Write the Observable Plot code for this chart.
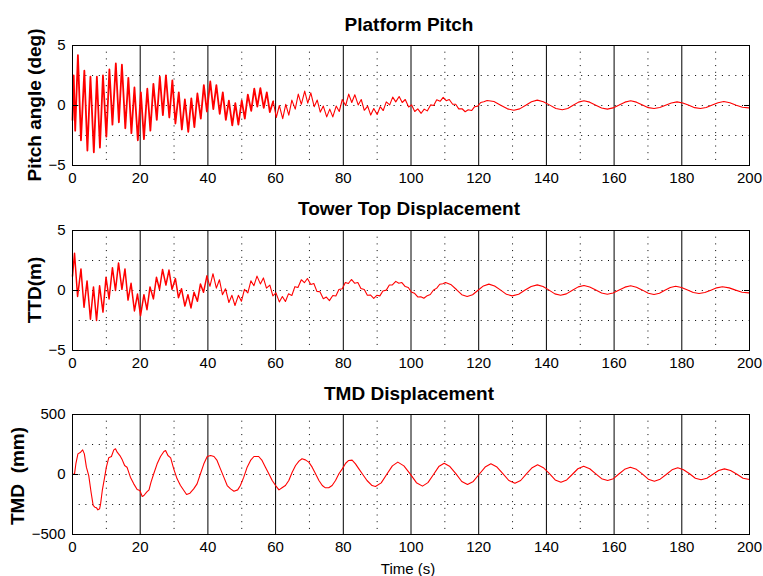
<!DOCTYPE html>
<html>
<head>
<meta charset="utf-8">
<script src="https://cdn.jsdelivr.net/npm/d3@7"></script>
<script src="https://cdn.jsdelivr.net/npm/@observablehq/plot@0.6"></script>
<style>
  html, body { margin: 0; padding: 0; background: #fff; }
  #root { position: relative; width: 763px; height: 576px; overflow: hidden; background: #fff;
          font-family: "Liberation Sans", Arial, Helvetica, sans-serif; }
  #root svg.panel { position: absolute; left: 0; }
  #labels { position: absolute; left: 0; top: 0; pointer-events: none; }
</style>
</head>
<body>
<div id="root"></div>
<script>
// ---------- axis ticks & grid ----------
const timeTicks = [0, 20, 40, 60, 80, 100, 120, 140, 160, 180, 200];
const solidGridTimes = [20, 40, 60, 80, 100, 120, 140, 160, 180];
const dottedGridTimes = [10, 30, 50, 70, 90, 110, 130, 150, 170, 190];
const pitchTicks = [-5, 0, 5];
const pitchGrid = [-2.5, 0, 2.5];
const ttdTicks = [-5, 0, 5];
const ttdGrid = [-2.5, 0, 2.5];
const tmdTicks = [-500, 0, 500];
const tmdGrid = [-250, 0, 250];

// ---------- texts ----------
const titles = ["Platform Pitch", "Tower Top Displacement", "TMD Displacement"];
const yLabels = ["Pitch angle (deg)", "TTD(m)", "TMD\u00a0\u00a0(mm)"];
const xLabel = "Time (s)";

// ---------- Platform pitch (deg) ----------
const pitchTime = [0, 0.35, 0.8, 1.6, 2.5, 3.5, 4.4, 5.3, 6.3, 7.2, 8.1, 9.0, 10.0, 10.9, 11.8, 12.8, 13.7, 14.6, 15.6, 16.5, 17.4, 18.3, 19.3, 20.2, 21.1, 22.1, 23.0, 23.9, 24.9, 25.8, 26.7, 27.6, 28.6, 29.5, 30.4, 31.4, 32.3, 33.2, 34.2, 35.1, 36.0, 36.9, 37.9, 38.8, 39.7, 40.7, 41.6, 42.5, 43.5, 44.4, 45.3, 46.2, 47.2, 48.1, 49.0, 50.0, 50.9, 51.8, 52.8, 53.7, 54.6, 55.5, 56.5, 57.4, 58.3, 59.3, 60.2, 61.1, 62.1, 63.0, 63.9, 64.8, 65.8, 66.7, 67.6, 68.6, 69.5, 70.4, 71.4, 72.3, 73.2, 74.1, 75.1, 76.0, 76.9, 77.9, 78.8, 79.7, 80.7, 81.6, 82.5, 83.4, 84.4, 85.3, 86.2, 87.2, 88.1, 89.0, 90.0, 90.9, 91.8, 92.7, 93.7, 94.6, 95.5, 96.5, 97.4, 98.3, 99.3, 100.2, 101.1, 102.0, 103.0, 103.9, 104.8, 105.8, 106.7, 107.6, 108.6, 109.5, 110.4, 111.3, 112.3, 113.2, 114.1, 115.1, 116.0, 116.9, 117.9, 118.8, 119.7, 120.6, 121.5, 122.5, 124.5, 126.5, 128.5, 130.4, 132.1, 133.9, 135.6, 137.3, 139.1, 141.0, 142.8, 144.7, 146.3, 147.9, 149.5, 151.1, 152.8, 154.6, 156.3, 158.0, 159.7, 161.5, 163.2, 164.9, 166.6, 168.4, 170.1, 171.8, 173.5, 175.2, 176.9, 178.6, 180.3, 182.1, 183.8, 185.5, 187.2, 189.0, 190.7, 192.4, 194.2, 196.1, 197.9, 199.8, 200];
const pitchDeg = [-1.2, 2.5, -2.1, 4.2, -2.9, 2.9, -3.75, 2.4, -3.9, 2.4, -3.5, 2.5, -2.6, 3.0, -1.6, 3.5, -1.4, 3.4, -1.9, 2.3, -2.3, 1.5, -2.9, 1.1, -2.8, 1.4, -2.1, 1.8, -1.2, 2.4, -0.8, 2.5, -1.0, 2.1, -1.5, 1.1, -2.0, 0.5, -2.2, 0.6, -1.8, 1.0, -1.1, 1.7, -0.5, 2.0, -0.3, 1.7, -0.7, 1.1, -1.2, 0.4, -1.65, 0.2, -1.6, 0.4, -1.1, 0.9, -0.45, 1.4, -0.1, 1.45, -0.2, 1.1, -0.55, 0.35, -1.0, 0.0, -1.1, 0.1, -0.8, 0.45, -0.3, 0.95, 0.1, 1.2, 0.2, 1.05, -0.1, 0.45, -0.55, -0.05, -0.95, -0.3, -0.95, -0.05, -0.5, 0.5, 0.0, 0.95, 0.25, 0.9, 0.05, 0.5, -0.4, -0.05, -0.8, -0.25, -0.75, -0.1, -0.42, 0.3, 0.05, 0.7, 0.3, 0.75, 0.25, 0.5, -0.12, 0.05, -0.5, -0.28, -0.65, -0.3, -0.45, 0.05, 0.0, 0.48, 0.35, 0.68, 0.4, 0.5, 0.1, 0.1, -0.28, -0.27, -0.52, -0.36, -0.42, -0.1, -0.05, 0.25, 0.32, 0.42, 0.33, 0.02, -0.28, -0.4, -0.28, 0.02, 0.32, 0.45, 0.32, 0.03, -0.25, -0.35, -0.25, 0.02, 0.28, 0.4, 0.28, 0.03, -0.21, -0.3, -0.2, 0.04, 0.28, 0.4, 0.28, 0.05, -0.18, -0.25, -0.17, 0.03, 0.21, 0.3, 0.21, 0.02, -0.18, -0.25, -0.17, 0.04, 0.23, 0.33, 0.23, 0.02, -0.15, -0.2, -0.2];

// ---------- Tower top displacement (m) ----------
const ttdTime = [0, 0.6, 1.5, 2.5, 3.4, 4.3, 5.3, 6.2, 7.1, 8.0, 9.0, 9.9, 10.8, 11.8, 12.7, 13.6, 14.6, 15.5, 16.4, 17.3, 18.3, 19.2, 20.1, 21.1, 22.0, 22.9, 23.9, 24.8, 25.7, 26.6, 27.6, 28.5, 29.4, 30.4, 31.3, 32.2, 33.2, 34.1, 35.0, 35.9, 36.9, 37.8, 38.7, 39.7, 40.6, 41.5, 42.5, 43.4, 44.3, 45.2, 46.2, 47.1, 48.0, 49.0, 49.9, 50.8, 51.8, 52.7, 53.6, 54.5, 55.5, 56.4, 57.3, 58.3, 59.2, 60.1, 61.1, 62.0, 62.9, 63.8, 64.8, 65.7, 66.6, 67.6, 68.5, 69.4, 70.4, 71.3, 72.2, 73.1, 74.1, 75.0, 75.9, 76.9, 77.8, 78.7, 79.7, 80.6, 81.5, 82.4, 83.4, 84.3, 85.2, 86.2, 87.1, 88.0, 89.0, 89.9, 90.8, 91.7, 92.7, 93.6, 94.5, 95.5, 96.4, 97.3, 98.3, 99.2, 100.1, 101.0, 102.0, 102.9, 103.8, 104.8, 105.7, 106.6, 107.6, 108.5, 109.4, 110.2, 111.9, 113.5, 115.0, 116.6, 118.2, 119.8, 121.4, 123.0, 124.7, 126.5, 128.2, 129.9, 131.8, 133.6, 135.5, 137.3, 139.0, 140.8, 142.5, 144.2, 145.9, 147.7, 149.4, 151.1, 152.8, 154.6, 156.3, 158.0, 159.7, 161.5, 163.2, 164.9, 166.6, 168.4, 170.1, 171.8, 173.4, 175.0, 176.6, 178.2, 179.9, 181.7, 183.4, 185.1, 186.8, 188.6, 190.3, 192.0, 194.0, 195.9, 197.8, 199.8, 200];
const ttdMetres = [1.2, 3.1, -0.5, 1.8, -1.4, 0.8, -2.4, 0.3, -2.5, 0.4, -1.8, 1.1, -0.7, 1.9, 0.0, 2.3, 0.1, 1.8, -0.8, 0.6, -1.7, -0.3, -2.1, -0.35, -1.6, 0.3, -0.7, 1.1, 0.1, 1.75, 0.45, 1.7, 0.1, 1.0, -0.6, 0.15, -1.3, -0.35, -1.45, -0.15, -0.9, 0.55, -0.15, 1.2, 0.35, 1.4, 0.2, 0.9, -0.35, 0.15, -1.0, -0.4, -1.25, -0.4, -0.9, 0.1, -0.2, 0.8, 0.4, 1.2, 0.55, 1.05, 0.2, 0.45, -0.45, -0.2, -0.95, -0.5, -0.92, -0.28, -0.42, 0.32, 0.25, 0.9, 0.65, 1.0, 0.5, 0.58, -0.07, -0.1, -0.68, -0.55, -0.84, -0.42, -0.46, 0.08, 0.14, 0.66, 0.58, 0.92, 0.6, 0.66, 0.17, 0.08, -0.4, -0.37, -0.65, -0.4, -0.45, -0.04, 0.03, 0.46, 0.47, 0.76, 0.6, 0.66, 0.33, 0.25, -0.12, -0.22, -0.54, -0.53, -0.65, -0.43, -0.33, 0.02, 0.2, 0.52, 0.56, 0.66, 0.47, 0.06, -0.35, -0.5, -0.35, 0.02, 0.38, 0.53, 0.37, 0.03, -0.32, -0.45, -0.31, 0.02, 0.34, 0.47, 0.33, 0.03, -0.28, -0.4, -0.28, 0.02, 0.3, 0.42, 0.29, 0.05, -0.21, -0.31, -0.21, 0.04, 0.28, 0.39, 0.27, 0.03, -0.23, -0.33, -0.23, 0.02, 0.25, 0.36, 0.25, 0.05, -0.17, -0.25, -0.17, 0.03, 0.22, 0.31, 0.22, 0.03, -0.14, -0.2, -0.2];

// ---------- TMD displacement (mm) ----------
const tmdTime = [0, 0.6, 1.0, 1.6, 2.4, 3.0, 3.5, 4.1, 4.8, 5.5, 6.1, 6.6, 7.1, 7.5, 8.0, 8.3, 8.8, 9.5, 10.0, 10.7, 11.5, 12.2, 12.7, 13.2, 14.0, 14.7, 15.4, 16.1, 17.1, 18.1, 19.1, 19.9, 20.6, 21.1, 21.9, 22.6, 23.2, 24.0, 25.0, 26.0, 27.0, 27.5, 28.2, 29.0, 29.9, 30.9, 31.9, 32.9, 33.7, 34.7, 35.8, 36.8, 37.8, 38.8, 39.8, 40.8, 41.8, 42.7, 43.7, 44.7, 45.7, 46.7, 47.7, 48.8, 49.6, 50.6, 51.6, 52.6, 53.6, 55.0, 56.0, 57.0, 58.0, 59.0, 60.0, 61.0, 61.9, 62.9, 63.9, 64.9, 65.9, 66.9, 67.8, 68.8, 69.8, 70.8, 71.8, 72.8, 73.8, 74.7, 75.7, 76.7, 77.7, 78.7, 79.7, 80.7, 81.6, 82.6, 83.6, 84.6, 85.6, 87.0, 88.5, 89.5, 91.2, 92.8, 94.5, 96.1, 97.9, 99.8, 101.6, 103.4, 105.0, 106.6, 108.2, 109.8, 111.5, 113.3, 115.0, 116.7, 118.4, 120.2, 121.9, 123.6, 125.4, 127.2, 128.9, 130.7, 132.4, 134.1, 135.8, 137.4, 139.1, 140.9, 142.6, 144.3, 146.0, 147.7, 149.3, 151.0, 152.8, 154.6, 156.3, 158.1, 159.8, 161.5, 163.1, 164.8, 166.6, 168.4, 170.1, 171.9, 173.6, 175.4, 177.1, 178.8, 180.5, 182.3, 184.0, 185.7, 187.4, 189.2, 190.9, 192.6, 194.4, 196.3, 198.1, 200.0];
const tmdMm = [0, 5, 90, 172, 186, 205, 172, 61, -10, -150, -258, -272, -278, -295, -286, -245, -133, -22, 61, 139, 150, 205, 214, 186, 158, 122, 75, 61, -22, -78, -125, -133, -183, -175, -147, -128, -64, 6, 89, 150, 192, 200, 158, 139, 47, -36, -92, -133, -167, -156, -120, -78, 6, 89, 150, 158, 150, 117, 47, -22, -92, -120, -139, -128, -92, -22, 61, 117, 150, 150, 117, 61, 6, -50, -92, -128, -111, -92, -50, 19, 75, 111, 131, 122, 103, 61, 6, -50, -92, -111, -111, -92, -50, 6, 47, 94, 117, 120, 89, 47, 6, -50, -92, -100, -70, 0, 72, 103, 72, 3, -68, -97, -68, -2, 66, 94, 66, 5, -58, -83, -58, 4, 62, 89, 62, 6, -50, -72, -50, 5, 57, 81, 57, 8, -45, -64, -45, 2, 48, 69, 48, 5, -35, -50, -35, 6, 43, 61, 43, 3, -39, -56, -39, 0, 39, 56, 39, 6, -31, -44, -31, 2, 33, 47, 33, 2, -31, -42];

const FONT = '"Liberation Sans", Arial, Helvetica, sans-serif';
const RED = "#ff0000";
const DOT = "1,5.7";

function table(times, values) {
  const n = Math.min(times.length, values.length);
  if (times.length !== values.length) console.warn("length mismatch", times.length, values.length);
  return times.slice(0, n).map((t, i) => ({t, v: values[i]}));
}

// thickStop: time up to which the dense early part is drawn with a heavier stroke
function panel(data, yTicks, yGrid, top, thickStop, thickWidth) {
  const svg = Plot.plot({
    width: 763,
    height: 170,
    marginLeft: 72,
    marginRight: 14,
    marginTop: 15,
    marginBottom: 35,
    x: {domain: d3.extent(timeTicks)},
    y: {domain: d3.extent(yTicks)},
    style: {fontFamily: FONT, fontSize: "15px", color: "#000", background: "transparent", overflow: "visible"},
    marks: [
      Plot.ruleX(dottedGridTimes, {stroke: "#000", strokeDasharray: DOT, strokeWidth: 1}),
      Plot.ruleY(yGrid, {stroke: "#000", strokeDasharray: DOT, strokeWidth: 1}),
      Plot.ruleX(solidGridTimes, {stroke: "#000", strokeWidth: 1}),
      Plot.line(data, {filter: (d) => d.t >= thickStop - 1, x: "t", y: "v", stroke: RED, strokeWidth: 1.1}),
      Plot.line(data, {filter: (d) => d.t <= thickStop, x: "t", y: "v", stroke: RED, strokeWidth: thickWidth}),
      Plot.frame({stroke: "#000", strokeWidth: 1}),
      Plot.axisX({ticks: timeTicks, tickSize: 0, tickPadding: 7, label: null, tickFormat: d3.format("d")}),
      Plot.axisY({ticks: yTicks, tickSize: 0, tickPadding: 7, label: null, tickFormat: d3.format("d")}),
      Plot.axisY({ticks: yTicks, anchor: "left", tickSize: -6, tickFormat: () => "", label: null}),
      Plot.axisY({ticks: yTicks, anchor: "right", tickSize: -6, tickFormat: () => "", label: null})
    ]
  });
  svg.classList.add("panel");
  svg.style.top = top + "px";
  return svg;
}

const root = document.getElementById("root");
root.appendChild(panel(table(pitchTime, pitchDeg), pitchTicks, pitchGrid, 30, 60, 1.8));
root.appendChild(panel(table(ttdTime, ttdMetres), ttdTicks, ttdGrid, 215, 40, 1.5));
root.appendChild(panel(table(tmdTime, tmdMm), tmdTicks, tmdGrid, 399, 0, 1.1));

// titles and axis labels
const NS = "http://www.w3.org/2000/svg";
const over = document.createElementNS(NS, "svg");
over.setAttribute("id", "labels");
over.setAttribute("width", 763);
over.setAttribute("height", 576);
function addText(str, attrs, transform) {
  const el = document.createElementNS(NS, "text");
  for (const k in attrs) el.setAttribute(k, attrs[k]);
  if (transform) el.setAttribute("transform", transform);
  el.setAttribute("font-family", FONT);
  el.textContent = str;
  over.appendChild(el);
}
const titleY = [30.5, 215, 400];
titles.forEach((s, i) => addText(s, {x: 409, y: titleY[i], "text-anchor": "middle", "font-weight": "bold", "font-size": 19}));
const labelPos = [[40.5, 105], [40.5, 290], [24, 476]];
yLabels.forEach((s, i) => addText(s, {x: 0, y: 0, "text-anchor": "middle", "font-weight": "bold", "font-size": 19},
  `translate(${labelPos[i][0]},${labelPos[i][1]}) rotate(-90)`));
addText(xLabel, {x: 408, y: 574, "text-anchor": "middle", "font-size": 15});
root.appendChild(over);
</script>
</body>
</html>
